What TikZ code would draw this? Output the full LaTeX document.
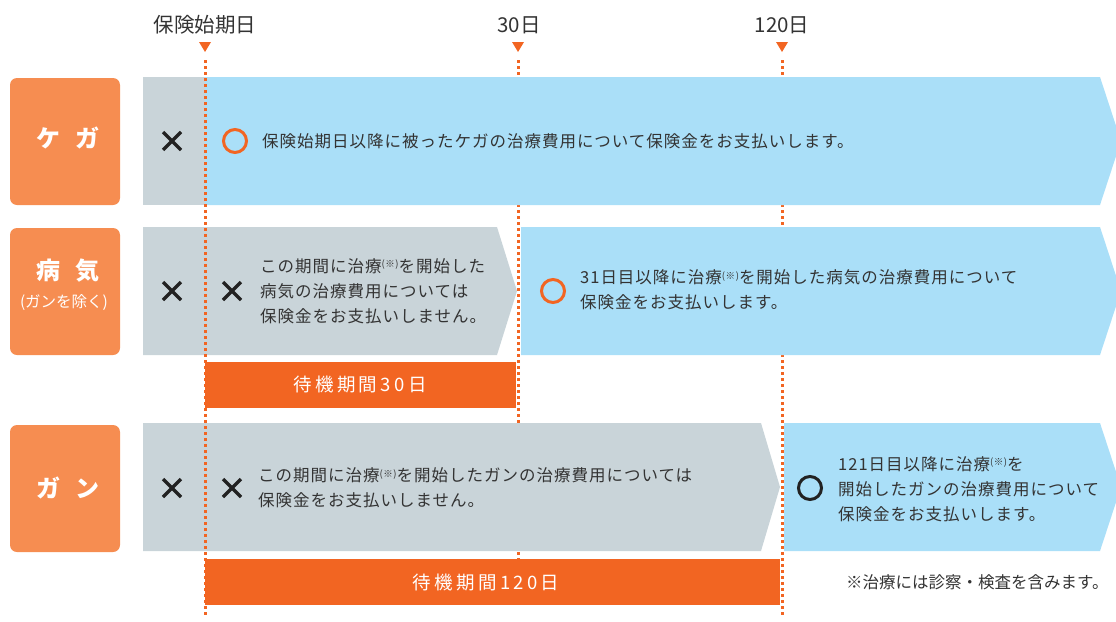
\documentclass[tikz,border=0pt]{standalone}
\usepackage{fontspec}
\setmainfont{Noto Sans CJK JP}
\newfontfamily\bodyf{Noto Sans CJK JP}[LetterSpace=6]
\newfontfamily\barf{Noto Sans CJK JP}[LetterSpace=18]
\newfontfamily\labf{Noto Sans CJK JP}[LetterSpace=60]
\newfontfamily\labsf{Noto Sans CJK JP}
\definecolor{boxor}{HTML}{F68D51}
\definecolor{gry}{HTML}{C9D4D9}
\definecolor{blu}{HTML}{AADFF8}
\definecolor{dor}{HTML}{F26522}
\definecolor{txt}{HTML}{333333}
\definecolor{markc}{HTML}{222222}
\newcommand\kome{\raisebox{4.5pt}{\fontsize{9.5}{9.5}\selectfont(※)}}
\tikzset{
  dotline/.style={dor, line width=3pt, dash pattern=on 3pt off 3pt},
  catbox/.style={fill=boxor, rounded corners=7pt},
  toplab/.style={text=txt, font=\fontsize{20.5}{20.5}\selectfont, inner sep=0pt},
  body/.style={text=txt, font=\bodyf\fontsize{16.5}{25}\selectfont, align=left, anchor=west, inner sep=0pt},
  cattext/.style={text=white, font=\labf\bfseries\fontsize{24}{24}\selectfont, inner sep=0pt},
  bartext/.style={text=white, font=\barf\fontsize{18.5}{18.5}\selectfont, inner sep=0pt},
  xmark/.style={draw=markc, line width=3.3pt},
  okmark/.style={line width=3pt},
}
\begin{document}
\begin{tikzpicture}[x=1pt,y=-1pt]
\useasboundingbox (0,0) rectangle (1116,621);
\clip (0,0) rectangle (1116,621);
% top labels
\node[toplab] (l0) at (205,25) {保険始期日};
\node[toplab] (l30) at (519,25) {30日};
\node[toplab] (l120) at (782,25) {120日};
\foreach \xx in {205,518,782} \fill[dor] (\xx-6,42) -- (\xx+6,42) -- (\xx,52) -- cycle;
% dotted lines behind
\draw[dotline] (518,60) -- (518,559);
\draw[dotline] (782,60) -- (782,615);
% category boxes
\fill[catbox] (10,78) rectangle (120,205);
\fill[catbox] (10,228) rectangle (120,355);
\fill[catbox] (10,425) rectangle (120,552);
\node[cattext] (c1) at (68,138) {ケガ};
\node[cattext] (c2) at (68,271) {病気};
\node[text=white, font=\labsf\fontsize{15.5}{15.5}\selectfont, inner sep=0pt] (c2b) at (64,303) {(ガンを除く)};
\node[cattext] (c3) at (68,488) {ガン};
% row 1
\fill[gry] (143,77) rectangle (206,205);
\fill[blu] (205,77) -- (1100,77) -- (1121,141) -- (1100,205) -- (205,205) -- cycle;
% row 2
\fill[gry] (143,227) -- (497,227) -- (517,291) -- (497,355) -- (143,355) -- cycle;
\fill[blu] (521,227) -- (1100,227) -- (1121,291) -- (1100,355) -- (521,355) -- cycle;
% row 3
\fill[gry] (143,423) -- (761,423) -- (780,487) -- (761,551) -- (143,551) -- cycle;
\fill[blu] (784,423) -- (1100,423) -- (1121,487) -- (1100,551) -- (784,551) -- cycle;
% waiting bars
\fill[dor] (205,362) rectangle (516,408);
\node[bartext] (w1) at (360,385) {待機期間30日};
\fill[dor] (205,559) rectangle (780,605);
\node[bartext] (w2) at (486,582) {待機期間120日};
% start line on top
\draw[dotline] (205,60) -- (205,615);
% marks
\foreach \xx/\yy in {172/141,172/291,232/291,172/488,232/488}
  \draw[xmark] (\xx-9,\yy-9) -- (\xx+9,\yy+9) (\xx-9,\yy+9) -- (\xx+9,\yy-9);
\draw[okmark, dor] (235,141) circle (11.5);
\draw[okmark, dor] (553,291) circle (11.5);
\draw[okmark, markc] (810,488) circle (11.5);
% texts
\node[body] (t1) at (262,141) {保険始期日以降に被ったケガの治療費用について保険金をお支払いします。};
\node[body] (t2a) at (260,291) {この期間に治療\kome を開始した\\病気の治療費用については\\保険金をお支払いしません。};
\node[body] (t2b) at (580,290) {31日目以降に治療\kome を開始した病気の治療費用について\\保険金をお支払いします。};
\node[body] (t3a) at (258,488) {この期間に治療\kome を開始したガンの治療費用については\\保険金をお支払いしません。};
\node[body] (t3b) at (838,489) {121日目以降に治療\kome を\\開始したガンの治療費用について\\保険金をお支払いします。};
\node[body, font=\labsf\fontsize{16.5}{16.5}\selectfont] (note) at (846,582) {※治療には診察・検査を含みます。};
\end{tikzpicture}
\end{document}
